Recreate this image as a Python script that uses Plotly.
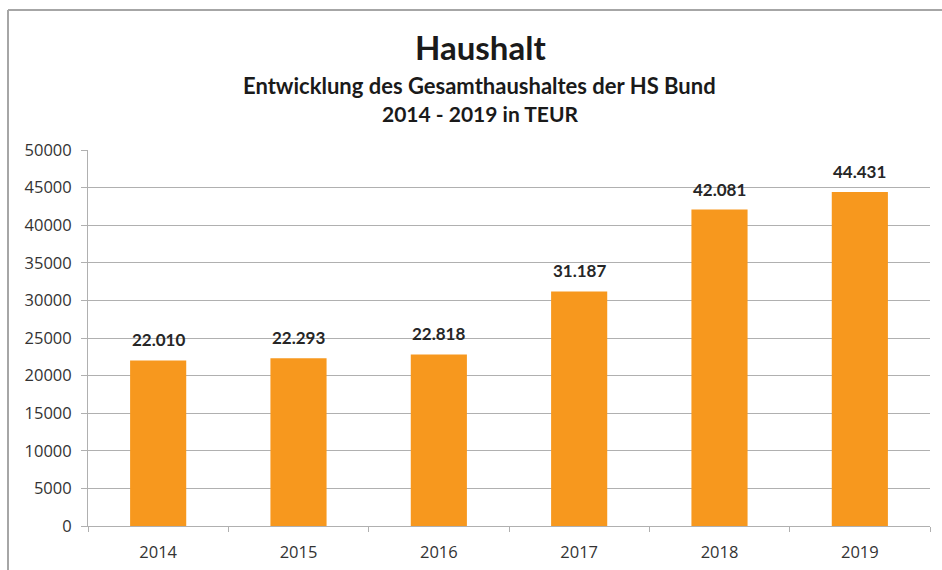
import plotly.graph_objects as go

years = ["2014", "2015", "2016", "2017", "2018", "2019"]
values = [22010, 22293, 22818, 31187, 42081, 44431]
value_labels = ["22.010", "22.293", "22.818", "31.187", "42.081", "44.431"]
y_ticks = [0, 5000, 10000, 15000, 20000, 25000, 30000, 35000, 40000, 45000, 50000]

title_main = "Haushalt"
title_sub1 = "Entwicklung des Gesamthaushaltes der HS Bund"
title_sub2 = "2014 - 2019 in TEUR"

W, H = 942, 570
L, R, T, B = 88, 12, 150, 44
ph = H - T - B
pw = W - L - R

def py(p):
    return (H - B - p) / ph

def px(p):
    return (p - L) / pw

fig = go.Figure()
fig.add_trace(go.Bar(
    x=list(range(len(years))), y=values,
    marker=dict(color="#F7981E", line=dict(width=0)),
    hovertext=years, hoverinfo="text+y",
))

for i, (v, lab) in enumerate(zip(values, value_labels)):
    fig.add_annotation(x=i, y=v, xref="x", yref="y", text="<b>" + lab + "</b>", showarrow=False,
                       yanchor="bottom", yshift=8,
                       font=dict(family="Lato, Open Sans, sans-serif", size=17, color="#262626"))

title_font = "Lato, Open Sans, sans-serif"
fig.add_annotation(xref="paper", yref="paper", x=px(480), y=py(47),
                   text="<b>" + title_main + "</b>", showarrow=False, yanchor="middle",
                   font=dict(family=title_font, size=33, color="#1a1a1a"))
fig.add_annotation(xref="paper", yref="paper", x=px(479), y=py(85),
                   text="<b>" + title_sub1 + "</b>", showarrow=False, yanchor="middle",
                   font=dict(family=title_font, size=22, color="#1a1a1a"))
fig.add_annotation(xref="paper", yref="paper", x=px(480), y=py(113),
                   text="<b>" + title_sub2 + "</b>", showarrow=False, yanchor="middle",
                   font=dict(family=title_font, size=21, color="#1a1a1a"))

# outer chart frame (only top and left edges are visible in the reference)
frame = dict(color="#A6A6A6", width=2)
fig.add_shape(type="line", xref="paper", yref="paper",
              x0=px(8), x1=px(1000), y0=py(10), y1=py(10), line=frame, layer="below")
fig.add_shape(type="line", xref="paper", yref="paper",
              x0=px(8), x1=px(8), y0=py(10), y1=py(640), line=frame, layer="below")

grid = "#B0B0B0"
tick_font = dict(family="Open Sans, sans-serif", size=16.5, color="#333333")
fig.update_layout(
    width=W, height=H,
    margin=dict(l=L, r=R, t=T, b=B, pad=0, autoexpand=False),
    paper_bgcolor="white", plot_bgcolor="white",
    showlegend=False,
    bargap=0.6,
    font=dict(family="Open Sans, sans-serif", size=15, color="#333333"),
    xaxis=dict(
        range=[-0.5, len(years) - 0.5],
        tickvals=list(range(len(years))), ticktext=years,
        ticks="", showline=True, linecolor=grid, linewidth=1,
        showgrid=False, ticklabelstandoff=11, automargin=False,
        tickangle=0, tickfont=tick_font,
        minor=dict(tickvals=[i - 0.5 for i in range(len(years) + 1)], ticks="outside",
                   ticklen=5, tickcolor=grid, showgrid=False),
    ),
    yaxis=dict(
        range=[0, 50000], tickvals=y_ticks, ticktext=[str(t) for t in y_ticks],
        ticks="outside", ticklen=6, tickcolor=grid,
        showline=True, linecolor=grid, linewidth=1,
        showgrid=True, gridcolor=grid, gridwidth=1, zeroline=False,
        ticklabelstandoff=6, automargin=False, tickfont=tick_font,
    ),
)

fig.write_html("out.html", config={"displayModeBar": False},
               post_script="document.body.style.margin='0px';")
